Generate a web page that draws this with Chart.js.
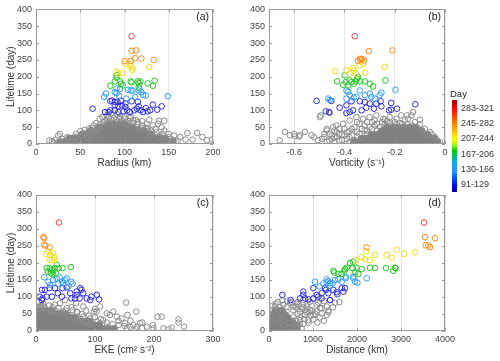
<!DOCTYPE html>
<html>
<head>
<meta charset="utf-8">
<script src="https://cdn.jsdelivr.net/npm/chart.js@4.4.0/dist/chart.umd.min.js"></script>
<style>
body { margin: 0; background: #fff; width: 500px; height: 361px; position: relative; overflow: hidden; font-family: 'Liberation Sans', Arial, sans-serif; }
canvas { position: absolute; }
#cbar { position: absolute; left: 452px; top: 100px; width: 5px; height: 92px;
  background: linear-gradient(to bottom, #a00000 0%, #ff0000 9%, #ff3a00 16%, #ff8000 25%, #ffb000 33%, #ffff00 42%, #b0ff20 48%, #00d000 55%, #00c070 62%, #10a8ff 68%, #3090ff 78%, #0050ff 86%, #0000f0 94%, #000090 100%); }
.cbl { position: absolute; left: 461px; font-size: 9px; color: #333; line-height: 10px; margin-top: -5px; }
#daylbl { position: absolute; left: 450px; top: 88px; font-size: 9.5px; color: #222; }
</style>
</head>
<body>
<canvas id="pa" width="250" height="170" style="left:0;top:0"></canvas>
<canvas id="pb" width="250" height="170" style="left:250px;top:0"></canvas>
<canvas id="pc" width="250" height="177" style="left:0;top:180px"></canvas>
<canvas id="pd" width="250" height="177" style="left:250px;top:180px"></canvas>
<div id="cbar"></div>
<div id="daylbl">Day</div>
<div id="cblabels"></div>
<script>
// lifetime classes (day) and their colours
const lifeBins = [[91, 129], [130, 166], [167, 206], [207, 244], [245, 282], [283, 321]];
const binLabels = ['91-129', '130-166', '167-206', '207-244', '245-282', '283-321'];
const binColors = ['#2a2ae8', '#2e9cff', '#22c622', '#ece01a', '#ff8a1a', '#ec4040'];

const lifeTicks = [0, 50, 100, 150, 200, 250, 300, 350, 400];
const radiusTicks = [0, 50, 100, 150, 200];
const vortTicks = [-0.6, -0.4, -0.2, 0];
const ekeTicks = [0, 100, 200, 300];
const distTicks = [0, 1000, 2000, 3000, 4000];

// (a) radius (km) vs lifetime (day)
const radiusColored = [
  [108,320],
  [108,277],[113,278],[112,255],[119,254],[133,250],[100,246],[107,247],
  [106,238],[107,231],[109,225],[109,219],[128,229],[101,238],[91,215],[93,209],[98,210],
  [91,205],[91,197],[89,186],[95,186],[96,179],[98,174],[84,173],[107,186],[108,183],[115,186],[116,181],[118,186],[126,180],[132,173],[134,188],[116,168],
  [77,140],[79,150],[89,154],[91,151],[94,143],[104,161],[107,159],[109,159],[116,159],[119,154],[121,146],[124,144],[102,135],[95,164],[91,165],[149,142],[112,140],[117,165],
  [64,105],[84,127],[86,129],[89,125],[92,125],[96,128],[97,115],[101,110],[108,127],[115,125],[116,112],[132,117],[137,102],[142,112],[129,100],[124,107],[84,100],[82,95],[78,95],[89,100],[93,95],[99,97],[103,100],[106,95],[111,100],[114,105],[118,100],[121,95],[126,97],[89,115],[93,112],[101,120]
];
const radiusGray = [
  [15,10],[18,8],[22,12],[25,25],[27,30],[20,5],[30,15],[35,20],[45,30],[50,38],[55,42],[60,45],[65,55],[68,62],[72,75],[75,80],[78,70],[80,85],[85,90],[88,78],[90,72],[95,80],[100,75],[105,68],[110,62],[115,58],[120,55],[125,60],[128,72],[139,69],[145,69],[142,50],[145,40],[150,20],[152,15],[155,12],[163,21],[171,33],[182,33],[188,21],[193,11],[199,13],[177,13],[169,13],[140,25],[135,45],[130,40],[62,15],[48,12],[40,8],[32,8],[25,5],[110,70],[92,88],[84,62],[76,65],[102,64],[118,48],[124,48],[56,30],[66,38],[144,10],[148,5],[158,5],[82,76],[97,70],[107,82],[113,72],[70,50],[63,48],[130,30],[136,35],[150,30],[156,25],[160,8],[45,22],[38,18],[52,25],
  [58,20],[62,35],[68,28],[72,58],[76,52],[80,68],[86,70],[92,66],[98,62],[104,58],[110,52],[116,44],[122,40],[128,35],[134,28],[140,20],[146,18],[152,8],[132,55],[126,45],[88,60],[94,75],[100,82],[106,78],[70,44],[64,40],[54,32],[44,16],[36,12],[30,6],[82,82],[115,65],[120,68],[138,60],[143,30]
];
const radiusCore = [
  [28,4],[34,4],[40,4],[46,4],[52,4],[58,4],[64,4],[70,4],[76,4],[82,4],[88,4],[94,4],[100,4],[106,4],[112,4],[118,4],[124,4],[130,4],[136,4],[142,4],[148,4],[154,4],
  [38,15],[44,15],[50,15],[56,15],[62,15],[68,15],[74,15],[80,15],[86,15],[92,15],[98,15],[104,15],[110,15],[116,15],[122,15],[128,15],[134,15],[140,15],[146,15],
  [52,26],[58,26],[64,26],[70,26],[76,26],[82,26],[88,26],[94,26],[100,26],[106,26],[112,26],[118,26],[124,26],[130,26],
  [62,37],[68,37],[74,37],[80,37],[86,37],[92,37],[98,37],[104,37],[110,37],[116,37],[122,37],
  [72,47],[78,47],[84,47],[90,47],[96,47],[102,47],[108,47],
  [82,56],[88,56],[94,56],[100,56]
];

// (b) vorticity (s^-1) vs lifetime
const vortColored = [
  [-0.359,320],
  [-0.303,276],[-0.209,278],[-0.339,253],[-0.33,253],[-0.346,247],[-0.335,250],[-0.322,248],
  [-0.438,216],[-0.392,219],[-0.366,226],[-0.362,219],[-0.339,234],[-0.326,239],[-0.317,211],[-0.24,229],[-0.355,209],[-0.379,209],
  [-0.429,186],[-0.399,204],[-0.395,184],[-0.405,176],[-0.385,174],[-0.372,184],[-0.355,186],[-0.35,194],[-0.346,199],[-0.339,186],[-0.319,186],[-0.299,179],[-0.286,171],[-0.237,189],[-0.379,189],[-0.363,179],
  [-0.392,159],[-0.385,155],[-0.379,145],[-0.363,138],[-0.352,140],[-0.339,159],[-0.319,145],[-0.299,150],[-0.293,140],[-0.279,135],[-0.26,145],[-0.253,152],[-0.197,161],[-0.465,135],[-0.458,131],[-0.392,135],
  [-0.511,128],[-0.452,128],[-0.474,97],[-0.461,95],[-0.419,108],[-0.392,115],[-0.392,92],[-0.379,95],[-0.366,100],[-0.339,127],[-0.332,100],[-0.319,125],[-0.313,108],[-0.299,120],[-0.283,105],[-0.273,120],[-0.256,127],[-0.253,112],[-0.223,100],[-0.214,102],[-0.191,105],[-0.214,122],[-0.118,118],[-0.372,127]
];
const vortGray = [
  [-0.657,11],[-0.637,36],[-0.617,26],[-0.597,23],[-0.577,26],[-0.557,36],[-0.531,26],[-0.498,80],[-0.494,85],[-0.458,92],[-0.505,11],[-0.6,30],[-0.58,22],[-0.52,20],[-0.49,15],[-0.48,30],[-0.47,40],[-0.46,10],
  [-0.127,95],[-0.134,85],[-0.147,75],[-0.174,85],[-0.193,75],[-0.22,80],[-0.246,75],[-0.273,85],[-0.3,80],[-0.326,75],[-0.352,80],[-0.379,70],[-0.405,60],[-0.432,55],[-0.445,50],[-0.47,45],
  [-0.44,20],[-0.43,35],[-0.42,10],[-0.41,28],[-0.40,45],[-0.39,15],[-0.38,38],[-0.37,25],[-0.36,50],[-0.35,35],[-0.34,60],[-0.33,45],[-0.32,55],[-0.31,40],[-0.29,65],[-0.27,60],[-0.25,65],[-0.23,68],[-0.2,65],[-0.18,62],[-0.16,70],[-0.12,65],[-0.1,58],[-0.08,45],[-0.06,35],[-0.04,20],[-0.03,10],[-0.02,5],[-0.42,45],[-0.45,25],[-0.44,5],[-0.38,5],
  [-0.48,20],[-0.47,8],[-0.46,30],[-0.45,15],[-0.44,40],[-0.43,22],[-0.42,30],[-0.41,12],[-0.40,25],[-0.39,35],[-0.38,20],[-0.37,45],[-0.36,12],[-0.35,22],[-0.34,30],[-0.33,18],[-0.32,40],[-0.31,30],[-0.30,50],[-0.29,45],[-0.28,55],[-0.27,40],[-0.26,50],[-0.24,58],[-0.22,62],[-0.21,55],[-0.19,58],[-0.17,60],[-0.15,58],[-0.13,55],[-0.11,50],[-0.09,40],[-0.07,30],[-0.05,28],[-0.35,65],[-0.31,65],[-0.28,70],[-0.24,72],[-0.15,85],[-0.1,72]
];
const vortCore = [
  [-0.36,4],[-0.338,4],[-0.316,4],[-0.294,4],[-0.272,4],[-0.25,4],[-0.228,4],[-0.206,4],[-0.184,4],[-0.162,4],[-0.14,4],[-0.118,4],[-0.096,4],[-0.074,4],[-0.052,4],[-0.032,4],
  [-0.33,15],[-0.308,15],[-0.286,15],[-0.264,15],[-0.242,15],[-0.22,15],[-0.198,15],[-0.176,15],[-0.154,15],[-0.132,15],[-0.11,15],[-0.088,15],[-0.066,15],[-0.046,15],
  [-0.29,26],[-0.268,26],[-0.246,26],[-0.224,26],[-0.202,26],[-0.18,26],[-0.158,26],[-0.136,26],[-0.114,26],[-0.092,26],[-0.07,26],
  [-0.25,37],[-0.228,37],[-0.206,37],[-0.184,37],[-0.162,37],[-0.14,37],[-0.118,37],[-0.096,37],
  [-0.23,47],[-0.208,47],[-0.186,47],[-0.164,47],[-0.142,47],[-0.12,47]
];

// (c) EKE (cm^2 s^-2) vs lifetime
const ekeColored = [
  [39,319],
  [12.5,276],[14,273],[14,254],[16,251],[23,246],
  [20,234],[17,227],[24,224],[29,229],[31,217],[31,209],[23,210],[27,208],
  [18,185],[23,185],[27,180],[29,175],[32,185],[35,195],[45,185],[59,188],[20,175],[25,170],[28,167],[34,170],[38,185],
  [14,158],[21,145],[29,150],[35,155],[40,158],[44,145],[49,150],[52,155],[60,145],[62,139],[38,139],[24,136],[46,141],[55,131],
  [6,101],[10,121],[15,121],[23,126],[27,101],[32,126],[37,111],[45,126],[52,128],[58,111],[60,96],[66,96],[69,116],[75,126],[77,121],[74,96],[86,96],[94,101],[103,106],[107,93],[11,96],[18,101],[44,101],[10,91],[69,106],[80,111],[92,91]
];
const ekeGray = [
  [152.8,83.5],[131,57],[120,52],[108.6,72],[103,57],[170,57],[155,47],[145,37],[137,42],[125.6,47],[114,32],[98.5,57],[80,72],[68,81.6],[52,67],[40.7,81.6],[6.8,72],[9.6,67],[206,42],[213,42],[241.6,34],[241.6,24.6],[251,12.8],[216,8],[198,17.7],[176.6,22.6],[165,17.7],[188,12.8],[151,22.6],[140,17.7],[108.6,22.6],[91.7,17.7],[80,27.5],[69,32.4],[57.7,47],[46,57],[29.4,57],[18,62],[4,67],[12.5,72],[32,77],[49,91],[69,57],[80,42],[91.7,37],[103,27.5],[120,12.8],[134,8],[154,8],[171,12.8],[199,8],[2,70],[8,75],[15,68],[25,62],[35,58],[45,52],[55,45],[65,40],[75,35],[85,28],[95,22],[160,30],[180,25],[230,10],[225,5],
  [110,35],[100,40],[90,45],[88,30],[78,50],[70,55],[62,62],[50,60],[38,68],[28,70],[22,75],[12,80],[5,85],[120,25],[130,20],[140,30],[150,15],[160,12],[170,5],[180,8],[115,5],[60,70],[85,60],[100,65]
];
const ekeCore = [
  [2,4],[10,4],[18,4],[26,4],[34,4],[42,4],[50,4],[58,4],[66,4],[74,4],[82,4],[90,4],[98,4],[106,4],[114,4],[122,4],[130,4],
  [2,15],[10,15],[18,15],[26,15],[34,15],[42,15],[50,15],[58,15],[66,15],[74,15],[82,15],[90,15],[98,15],[106,15],
  [2,26],[10,26],[18,26],[26,26],[34,26],[42,26],[50,26],[58,26],[66,26],[74,26],[82,26],[90,26],
  [2,37],[10,37],[18,37],[26,37],[34,37],[42,37],[50,37],[58,37],[66,37],
  [2,47],[10,47],[18,47],[26,47],[34,47],[42,47],[50,47],
  [2,57],[10,57],[18,57],[26,57]
];

// (d) distance (km) vs lifetime
const distColored = [
  [3523,319],
  [3545,276],[3773,273],[3561,252],[3621,252],[3659,247],[2220,246],
  [2205,234],[2409,224],[2674,224],[2788,216],[2902,239],[3068,227],[3318,231],[2106,217],[2182,211],[2295,208],[1977,208],
  [1462,177],[1485,172],[1576,168],[1652,168],[1712,177],[1765,186],[1841,200],[1917,204],[1902,185],[1992,186],[2106,182],[2030,168],[2295,186],[2409,185],[2659,185],[2864,186],[2826,177],[2879,184],[1955,173],[1727,182],
  [1311,152],[1348,147],[1386,140],[1447,140],[1500,150],[1576,152],[1652,145],[1743,160],[1743,155],[1917,155],[1955,145],[2008,142],[2220,155],[1144,131],[1235,140],[1045,145],[1386,133],[1311,143],[1917,160],
  [303,106],[492,91],[780,106],[780,116],[894,93],[1008,96],[1083,106],[1008,126],[1121,101],[1197,96],[1295,121],[1348,111],[1386,91],[1462,121],[1538,114],[1652,126],[1727,126],[1690,116],[705,96],[818,96],[1197,111],[1273,126],[1553,108]
];
const distGray = [
  [136,72],[326,77],[477,82],[629,80],[780,91],[932,86],[1083,77],[1197,67],[1311,72],[1500,83],[1386,91],[174,37],[326,32],[553,42],[705,32],[780,21],[894,32],[1008,47],[1008,34],[1083,57],[1197,52],[1311,47],[477,23],[326,18],[629,13],[742,8],[818,47],[932,62],[705,57],[553,62],[401,57],[288,52],[212,62],[553,72],[856,72],[1121,82],[1159,67],
  [700,40],[650,50],[750,65],[600,30],[850,55],[950,45],[400,70],[250,70],[100,60],[50,45],[30,30],[880,80],[1000,95],[1250,88],[1450,70],[1600,85],
  [80,75],[150,80],[200,85],[300,90],[420,88],[520,85],[600,70],[680,75],[760,70],[820,62],[900,55],[980,60],[1050,50],[1150,40],[1250,30],[1350,55],[1100,25],[900,25],[800,35],[700,20],[650,10],[550,15],[450,10],[650,85],[1350,60]
];
const distCore = [
  [20,4],[140,4],[260,4],[380,4],[500,4],[620,4],
  [20,15],[140,15],[260,15],[380,15],[500,15],[620,15],
  [40,26],[160,26],[280,26],[400,26],[520,26],
  [60,37],[180,37],[300,37],[420,37],
  [100,47],[220,47],[340,47],
  [160,57],[280,57]
];

const tickFont = { family: "'Liberation Sans', Arial, sans-serif", size: 9 };
const titleFont = { family: "'Liberation Sans', Arial, sans-serif", size: 10 };

// colorbar labels
const cbTop = 100, cbH = 92;
binLabels.forEach((txt, i) => {
  const d = document.createElement('div');
  d.className = 'cbl';
  d.textContent = txt;
  d.style.top = (cbTop + cbH - (i + 0.5) * cbH / binLabels.length) + 'px';
  document.getElementById('cblabels').appendChild(d);
});

function toXY(arr) { return arr.map(p => ({ x: p[0], y: p[1] })); }

function panelDatasets(colored, gray, core) {
  const ds = [];
  for (let b = lifeBins.length - 1; b >= 0; b--) {
    const [lo, hi] = lifeBins[b];
    ds.push({
      data: toXY(colored.filter(p => p[1] >= lo && p[1] <= hi + 0.99)),
      borderColor: binColors[b], backgroundColor: 'rgba(0,0,0,0)',
      pointRadius: 2.8, borderWidth: 1
    });
  }
  ds.push({ data: toXY(gray), borderColor: '#8c8c8c', backgroundColor: 'rgba(0,0,0,0)', pointRadius: 2.8, borderWidth: 1 });
  ds.push({ data: toXY(core), borderColor: '#808080', backgroundColor: '#808080', pointRadius: 4, borderWidth: 1 });
  return ds;
}

// axes box, inward ticks and panel tag
const boxPlugin = {
  id: 'panelBox',
  afterDatasetsDraw(chart, args, opts) {
    const { ctx, chartArea: a, scales } = chart;
    ctx.save();
    ctx.strokeStyle = '#9a9a9a';
    ctx.lineWidth = 1;
    ctx.strokeRect(Math.round(a.left) + 0.5, Math.round(a.top) + 0.5, Math.round(a.width) - 1, Math.round(a.height) - 1);
    ctx.beginPath();
    scales.x.ticks.forEach(t => {
      const px = Math.round(scales.x.getPixelForValue(t.value)) + 0.5;
      ctx.moveTo(px, a.bottom); ctx.lineTo(px, a.bottom - 3);
      ctx.moveTo(px, a.top); ctx.lineTo(px, a.top + 3);
    });
    scales.y.ticks.forEach(t => {
      const py = Math.round(scales.y.getPixelForValue(t.value)) + 0.5;
      ctx.moveTo(a.left, py); ctx.lineTo(a.left + 3, py);
      ctx.moveTo(a.right, py); ctx.lineTo(a.right - 3, py);
    });
    ctx.stroke();
    ctx.fillStyle = '#222';
    ctx.font = "10.5px 'Liberation Sans', Arial, sans-serif";
    ctx.textAlign = 'right';
    ctx.textBaseline = 'middle';
    ctx.fillText(opts.tag, a.right - 4, a.top + 8);
    ctx.restore();
  }
};

function makePanel(id, cfg) {
  new Chart(document.getElementById(id), {
    type: 'scatter',
    data: { datasets: panelDatasets(cfg.colored, cfg.gray, cfg.core) },
    options: {
      responsive: false,
      animation: false,
      events: [],
      layout: { padding: { top: cfg.padTop, right: cfg.padRight, left: 0, bottom: 0 } },
      plugins: { legend: { display: false }, tooltip: { enabled: false }, panelBox: { tag: cfg.tag } },
      scales: {
        x: {
          type: 'linear', min: cfg.xMin, max: cfg.xMax,
          afterBuildTicks: s => { s.ticks = cfg.xTicks.map(v => ({ value: v })); },
          afterFit: s => { s.height = 26; },
          grid: { color: '#e6e6e6', drawTicks: false },
          border: { display: false },
          ticks: { padding: 3, font: tickFont, color: '#444', callback: cfg.xFmt || (v => v) },
          title: { display: true, text: cfg.xTitle, font: titleFont, color: '#333', padding: { top: 0, bottom: 1 } }
        },
        y: {
          type: 'linear', min: 0, max: 400,
          afterBuildTicks: s => { s.ticks = lifeTicks.map(v => ({ value: v })); },
          afterFit: s => { s.width = cfg.yW; },
          grid: { display: false, drawTicks: false },
          border: { display: false },
          ticks: { padding: 4, font: tickFont, color: '#444' },
          title: { display: cfg.yTitle, text: 'Lifetime (day)', font: titleFont, color: '#333', padding: { top: 5, bottom: 0 } }
        }
      }
    },
    plugins: [boxPlugin]
  });
}

makePanel('pa', { tag: '(a)', colored: radiusColored, gray: radiusGray, core: radiusCore,
  xMin: 0, xMax: 200, xTicks: radiusTicks, xTitle: 'Radius (km)', yW: 36, yTitle: true, padTop: 9, padRight: 37 });
makePanel('pb', { tag: '(b)', colored: vortColored, gray: vortGray, core: vortCore,
  xMin: -0.7, xMax: 0, xTicks: vortTicks, xTitle: 'Vorticity (s\u207B\u00B9)', yW: 19, yTitle: false, padTop: 9, padRight: 55,
  xFmt: v => v === 0 ? '0' : v.toFixed(1) });
makePanel('pc', { tag: '(c)', colored: ekeColored, gray: ekeGray, core: ekeCore,
  xMin: 0, xMax: 300, xTicks: ekeTicks, xTitle: 'EKE (cm\u00B2 s\u207B\u00B2)', yW: 36, yTitle: true, padTop: 15, padRight: 37 });
makePanel('pd', { tag: '(d)', colored: distColored, gray: distGray, core: distCore,
  xMin: 0, xMax: 4000, xTicks: distTicks, xTitle: 'Distance (km)', yW: 19, yTitle: false, padTop: 15, padRight: 55 });
</script>
</body>
</html>
